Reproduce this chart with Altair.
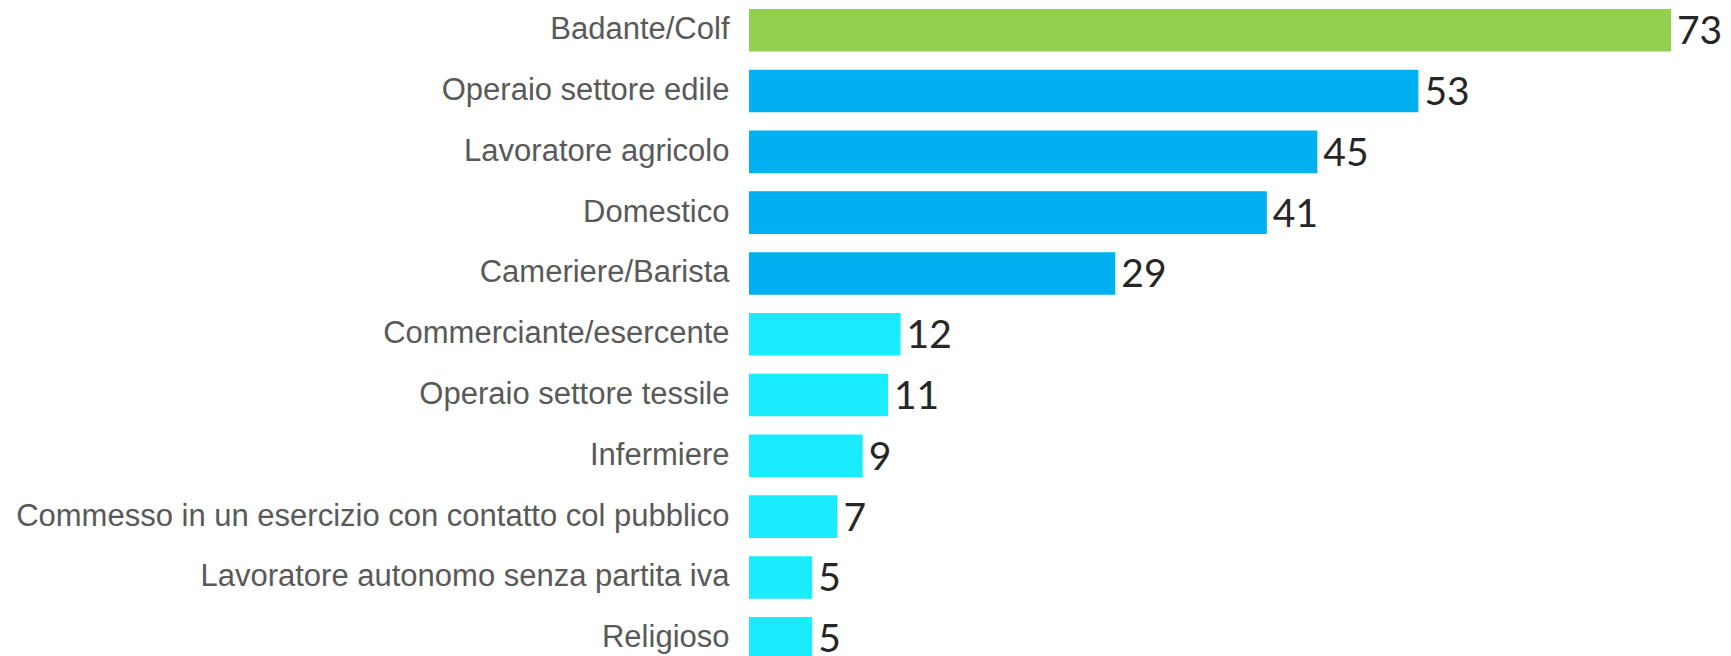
import altair as alt
import pandas as pd

categories = [
    "Badante/Colf",
    "Operaio settore edile",
    "Lavoratore agricolo",
    "Domestico",
    "Cameriere/Barista",
    "Commerciante/esercente\u00a0",
    "Operaio settore tessile",
    "Infermiere",
    "Commesso in un esercizio con contatto col pubblico",
    "Lavoratore autonomo senza partita iva",
    "Religioso",
]
values = [73, 53, 45, 41, 29, 12, 11, 9, 7, 5, 5]
groups = ["top", "high", "high", "high", "high", "low", "low", "low", "low", "low", "low"]

group_domain = ["top", "high", "low"]
group_colors = ["#92D050", "#00B0F0", "#1BEBFF"]

df = pd.DataFrame({"categoria": categories, "valore": values, "gruppo": groups})

y_enc = alt.Y(
    "categoria:N",
    sort=categories,
    scale=alt.Scale(range=[0, 652.5], paddingInner=0.3, paddingOuter=0.016),
    axis=alt.Axis(
        title=None,
        ticks=False,
        domain=False,
        labelFont="Liberation Sans",
        labelFontSize=31,
        labelColor="#595959",
        labelPadding=20,
        labelLimit=1000,
    ),
)
x_enc = alt.X("valore:Q", scale=alt.Scale(domain=[0, 73], nice=False), axis=None)

bars = alt.Chart(df).mark_bar().encode(
    y=y_enc,
    x=x_enc,
    color=alt.Color(
        "gruppo:N",
        scale=alt.Scale(domain=group_domain, range=group_colors),
        legend=None,
    ),
)

labels = alt.Chart(df).mark_text(
    align="left",
    baseline="middle",
    dx=6,
    dy=2,
    font="Lato",
    fontSize=39,
    color="#262626",
).encode(y=y_enc, x=x_enc, text="valore:Q")

chart = (
    alt.layer(bars, labels)
    .properties(
        width=922,
        height=648,
        padding={"left": 741, "top": 0, "right": 52, "bottom": 0},
        autosize=alt.AutoSizeParams(type="none"),
    )
    .configure_view(stroke=None)
)

chart.save("out.html", embed_options={"renderer": "svg", "actions": False})
